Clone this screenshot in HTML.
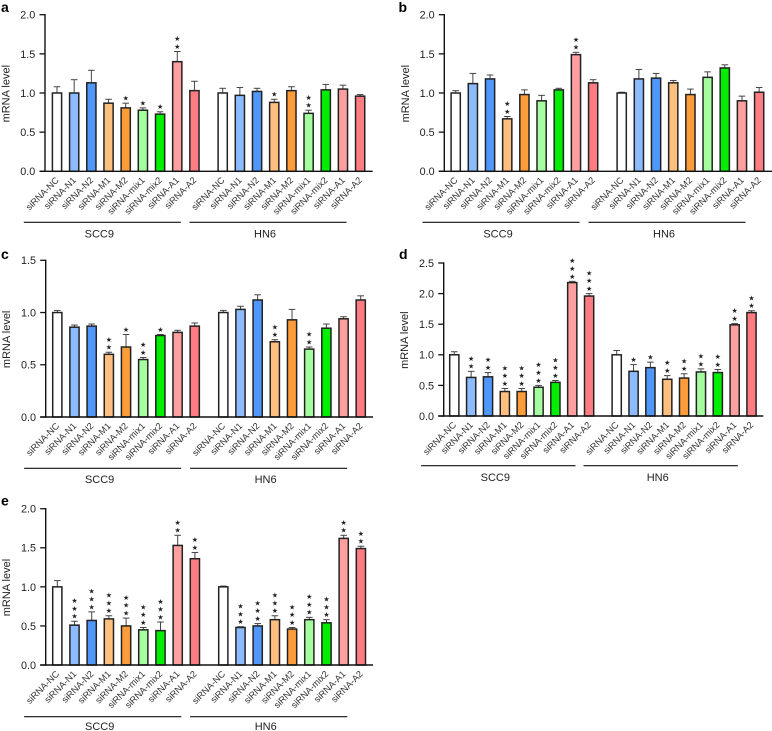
<!DOCTYPE html>
<html>
<head>
<meta charset="utf-8">
<title>mRNA level bar charts</title>
<style>
html,body{margin:0;padding:0;background:#fff;}
svg{display:block;}
text{font-family:"Liberation Sans",Arial,sans-serif;fill:#222;}
</style>
</head>
<body>
<svg id="figure" width="772" height="731" viewBox="0 0 772 731" xmlns="http://www.w3.org/2000/svg"></svg>
<script>
var categories = ['siRNA-NC','siRNA-N1','siRNA-N2','siRNA-M1','siRNA-M2','siRNA-mix1','siRNA-mix2','siRNA-A1','siRNA-A2'];
var cellLines = ['SCC9','HN6'];
var barColors = ['#ffffff','#8cbcff','#4f97fb','#ffc07f','#ff9c3a','#a6ff9f','#00ee00','#ff9f9f','#ff7d82'];

var aTicks = [0,0.5,1,1.5,2];
var aScc9 = [1.0,1.0,1.13,0.87,0.81,0.78,0.73,1.40,1.03];
var aScc9Upper = [1.08,1.17,1.29,0.92,0.87,0.81,0.76,1.53,1.15];
var aScc9Stars = [0,0,0,0,1,1,1,2,0];
var aHn6 = [1.0,0.97,1.02,0.88,1.03,0.74,1.04,1.05,0.96];
var aHn6Upper = [1.06,1.07,1.06,0.92,1.08,0.78,1.11,1.10,0.98];
var aHn6Stars = [0,0,0,1,0,2,0,0,0];

var bTicks = [0,0.5,1,1.5,2];
var bScc9 = [1.0,1.12,1.18,0.67,0.98,0.90,1.04,1.49,1.13];
var bScc9Upper = [1.03,1.25,1.23,0.70,1.04,0.97,1.06,1.52,1.17];
var bScc9Stars = [0,0,0,2,0,0,0,2,0];
var bHn6 = [1.0,1.18,1.19,1.13,0.98,1.20,1.32,0.90,1.01];
var bHn6Upper = [1.01,1.30,1.25,1.16,1.05,1.27,1.36,0.96,1.07];
var bHn6Stars = [0,0,0,0,0,0,0,0,0];

var cTicks = [0,0.5,1,1.5];
var cScc9 = [1.0,0.86,0.87,0.60,0.67,0.55,0.78,0.81,0.87];
var cScc9Upper = [1.02,0.88,0.89,0.62,0.79,0.57,0.79,0.83,0.90];
var cScc9Stars = [0,0,0,2,1,2,1,0,0];
var cHn6 = [1.0,1.03,1.12,0.72,0.93,0.65,0.85,0.94,1.12];
var cHn6Upper = [1.02,1.06,1.17,0.74,1.03,0.67,0.89,0.96,1.16];
var cHn6Stars = [0,0,0,2,0,2,0,0,0];

var dTicks = [0,0.5,1,1.5,2,2.5];
var dScc9 = [1.0,0.63,0.64,0.40,0.40,0.47,0.55,2.18,1.96];
var dScc9Upper = [1.05,0.73,0.71,0.45,0.45,0.50,0.58,2.20,2.00];
var dScc9Stars = [0,2,2,3,3,3,3,3,3];
var dHn6 = [1.0,0.73,0.79,0.60,0.62,0.72,0.71,1.49,1.69];
var dHn6Upper = [1.07,0.84,0.88,0.66,0.69,0.77,0.76,1.51,1.72];
var dHn6Stars = [0,1,1,2,2,2,2,2,2];

var eTicks = [0,0.5,1,1.5,2];
var eScc9 = [1.0,0.51,0.57,0.59,0.50,0.45,0.44,1.53,1.36];
var eScc9Upper = [1.08,0.56,0.68,0.63,0.60,0.48,0.55,1.66,1.44];
var eScc9Stars = [0,3,3,3,3,3,3,2,2];
var eHn6 = [1.0,0.48,0.50,0.58,0.46,0.58,0.54,1.62,1.49];
var eHn6Upper = [1.01,0.49,0.53,0.63,0.48,0.61,0.58,1.66,1.52];
var eHn6Stars = [0,3,3,3,3,3,3,2,2];

var axisTitle = 'mRNA level';

var panels = [
  {id:'a',ticks:aTicks,v:[aScc9,aHn6],u:[aScc9Upper,aHn6Upper],s:[aScc9Stars,aHn6Stars],
   letterX:1,letterY:12,axisX:45,top:14.7,bottom:171.3,right:372.7,first:[57,222.7],step:17.18,lineDy:51,labelDy:66},
  {id:'b',ticks:bTicks,v:[bScc9,bHn6],u:[bScc9Upper,bHn6Upper],s:[bScc9Stars,bHn6Stars],
   letterX:398.5,letterY:12,axisX:444.3,top:14.7,bottom:171.3,right:772,first:[455.7,621.7],step:17.18,lineDy:51,labelDy:66},
  {id:'c',ticks:cTicks,v:[cScc9,cHn6],u:[cScc9Upper,cHn6Upper],s:[cScc9Stars,cHn6Stars],
   letterX:1,letterY:259,axisX:45.7,top:260.3,bottom:417,right:373,first:[57.3,223.3],step:17.18,lineDy:51.3,labelDy:66},
  {id:'d',ticks:dTicks,v:[dScc9,dHn6],u:[dScc9Upper,dHn6Upper],s:[dScc9Stars,dHn6Stars],
   letterX:399,letterY:259,axisX:443.7,top:263,bottom:416,right:763.3,first:[454.3,616.7],step:16.85,lineDy:49.7,labelDy:65},
  {id:'e',ticks:eTicks,v:[eScc9,eHn6],u:[eScc9Upper,eHn6Upper],s:[eScc9Stars,eHn6Stars],
   letterX:1,letterY:505.7,axisX:45.7,top:508.7,bottom:665,right:373,first:[57.3,223.3],step:17.2,lineDy:51.7,labelDy:65}
];

var NS = 'http://www.w3.org/2000/svg';
var root = document.getElementById('figure');

function make(parent, tag, attrs, txt) {
  var n = document.createElementNS(NS, tag);
  for (var k in attrs) { n.setAttribute(k, attrs[k]); }
  if (txt !== undefined) { n.textContent = txt; }
  parent.appendChild(n);
  return n;
}

panels.forEach(function (p) {
  var maxTick = p.ticks[p.ticks.length - 1];
  function yScale(val) { return p.bottom - (val / maxTick) * (p.bottom - p.top); }
  function xScale(g, i) { return p.first[g] + i * p.step; }

  var g = make(root, 'g', {});
  
  

  var letter = make(g, 'text', {x:p.letterX, y:p.letterY, 'font-size':14, 'font-weight':'bold', style:'fill:#000'}, p.id);
  
  

  var title = make(g, 'text', {'font-size':11, 'text-anchor':'middle',
    transform:'translate(' + (p.axisX - 35.5) + ',' + ((p.top + p.bottom) / 2 + 0.7) + ') rotate(-90)'}, axisTitle);
  
  

  p.v.forEach(function (series, gi) {
    series.forEach(function (val, i) {
      var cx = xScale(gi, i);
      var yTop = yScale(val);
      var yErr = yScale(p.u[gi][i]);

      var stem = make(g, 'line', {x1:cx, x2:cx, y1:yTop, y2:yErr, stroke:'#444', 'stroke-width':1});
      
      
      var cap = make(g, 'line', {x1:cx - 3.3, x2:cx + 3.3, y1:yErr, y2:yErr, stroke:'#444', 'stroke-width':1});
      
      

      var bar = make(g, 'rect', {x:cx - 4.6, y:yTop, width:9.2, height:p.bottom - yTop,
        fill:barColors[i], stroke:'#222', 'stroke-width':1.5});
      
      

      for (var s = 0; s < p.s[gi][i]; s++) {
        var star = make(g, 'text', {x:cx, y:yErr - 5 - s * 7.8 + 2.4, 'font-size':7, 'text-anchor':'middle',
          style:'font-family:"DejaVu Sans",sans-serif;fill:#222'}, '\u2605');
        
        
      }

      var lx = cx + 2.5;
      var ly = p.bottom + 9.5;
      var label = make(g, 'text', {'font-size':9.2, 'text-anchor':'end', style:'fill:#333',
        transform:'translate(' + lx + ',' + ly + ') rotate(-45)'}, categories[i]);
      
      
    });

    var x1 = p.first[gi] - 33.2;
    var x2 = xScale(gi, 8) - 13.6;
    var groupLine = make(g, 'line', {x1:x1, x2:x2, y1:p.bottom + p.lineDy, y2:p.bottom + p.lineDy, stroke:'#111', 'stroke-width':1.2});
    
    
    var groupLabel = make(g, 'text', {x:(x1 + x2) / 2 - 3, y:p.bottom + p.labelDy, 'font-size':11, 'text-anchor':'middle'}, cellLines[gi]);
    
    
  });

  var yAxis = make(g, 'line', {x1:p.axisX, x2:p.axisX, y1:p.top - 0.7, y2:p.bottom + 0.7, stroke:'#111', 'stroke-width':1.4});
  
  
  var xAxis = make(g, 'line', {x1:p.axisX - 5.5, x2:p.right, y1:p.bottom, y2:p.bottom, stroke:'#111', 'stroke-width':1.4});
  
  

  p.ticks.forEach(function (t) {
    var ty = yScale(t);
    var tick = make(g, 'line', {x1:p.axisX - 5.5, x2:p.axisX, y1:ty, y2:ty, stroke:'#111', 'stroke-width':1.3});
    
    
    var tl = make(g, 'text', {x:p.axisX - 9.7, y:ty + 3.9, 'font-size':10.8, 'text-anchor':'end'}, t.toFixed(1));
    
    
  });
});
</script>
</body>
</html>
